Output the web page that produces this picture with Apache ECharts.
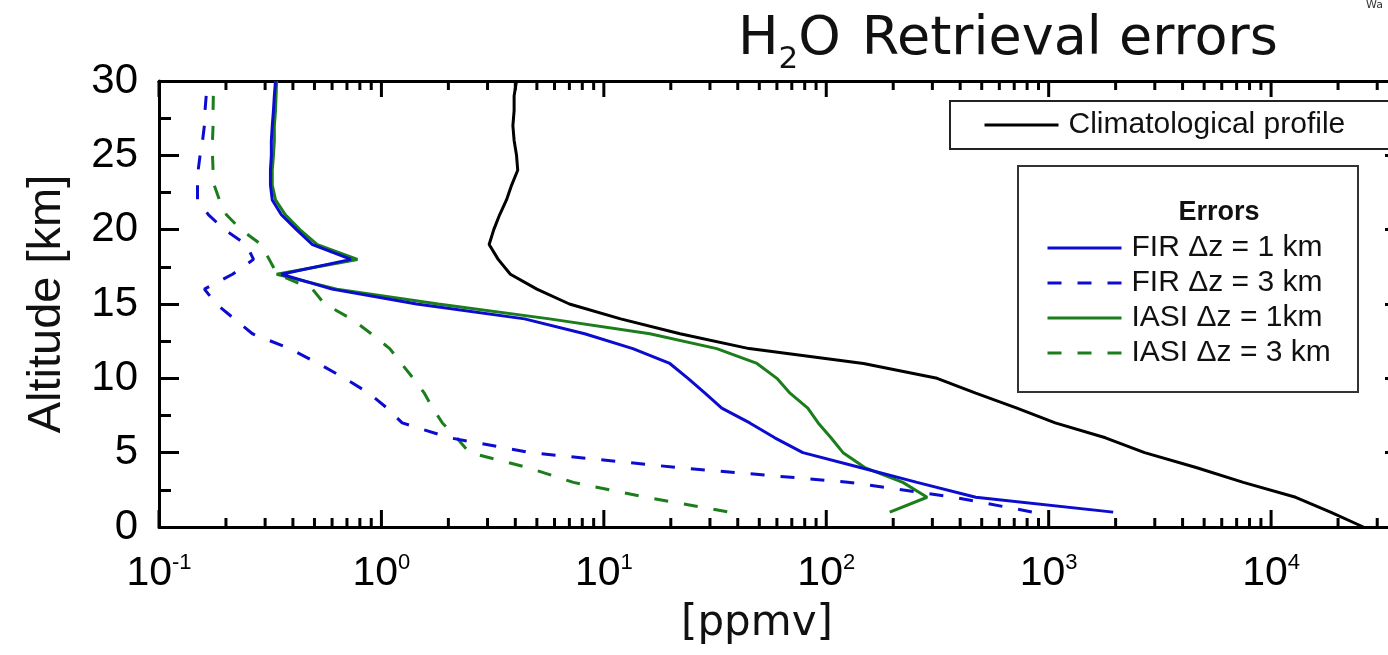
<!DOCTYPE html>
<html>
<head>
<meta charset="utf-8">
<title>H2O Retrieval errors</title>
<script src="https://cdn.jsdelivr.net/npm/echarts@6/dist/echarts.min.js"></script>
<style>
  html, body { margin: 0; padding: 0; background: #ffffff; }
  #chart { width: 1388px; height: 655px; }
</style>
</head>
<body>
<div id="chart"></div>
<script>
// Altitude grids [km]
const altitudeClim = [30,29,28,27,26,25,24,23,22,21,20,19,18,17,16,15,14,13,12,11,10,9,8,7,6,5,4,3,2,1,0];
const altitudeFine = [30,29,28,27,26,25,24,23,22,21,20,19,18,17,16,15,14,13,12,11,10,9,8,7,6,5,4,3,2,1];
const altitudeCoarse = [29,28,27,26,25,24,23,22,21,20,19,18,17,16,15,14,13,12,11,10,9,8,7,6,5,4,3,2,1];

// H2O volume mixing ratio [ppmv]
const climatologicalProfile = [4.05,3.95,3.95,3.9,3.95,4.05,4.1,3.85,3.65,3.4,3.2,3.05,3.35,3.8,5.0,7.0,11.9,22,45,147,315,470,720,1070,1800,2700,4600,7500,12900,18500,26000];
const firDz1 = [0.334,0.33,0.327,0.323,0.32,0.32,0.317,0.317,0.323,0.355,0.415,0.49,0.73,0.355,0.60,1.44,4.4,8.2,13.5,19.8,23.9,28.5,33.9,45.3,58.7,78.5,142,256,470,1950];
const firDz3 = [0.163,0.161,0.16,0.157,0.153,0.15,0.149,0.149,0.167,0.197,0.247,0.266,0.214,0.16,0.181,0.218,0.263,0.386,0.52,0.683,0.88,1.06,1.24,2.03,4.7,21.4,128,376,850];
const iasiDz1 = [0.338,0.336,0.334,0.33,0.33,0.327,0.323,0.323,0.334,0.37,0.43,0.515,0.78,0.338,0.63,1.8,5.7,16.1,32.2,48.8,60,68.7,82.6,92,105,119,149,221,284,193];
const iasiDz3 = [0.1755,0.175,0.175,0.174,0.174,0.175,0.177,0.187,0.201,0.234,0.288,0.313,0.34,0.49,0.555,0.733,0.90,1.09,1.23,1.39,1.56,1.70,1.88,2.18,2.49,4.55,7.3,15.4,36.8];

// Names
const seriesNames = ['Climatological profile', 'FIR \u0394z = 1 km', 'FIR \u0394z = 3 km', 'IASI \u0394z = 1km', 'IASI \u0394z = 3 km'];
const xName = '[ppmv]';
const yName = 'Altitude [km]';

const BLUE = '#0c0cd0';
const GREEN = '#1b7d1b';
const SANS = '"Liberation Sans", Arial, sans-serif';
const DEJAVU = '"DejaVu Sans", sans-serif';

const X_MIN = 0.1, X_MAX = 40000;

function pairs(values, alts) { return values.map((v, i) => [v, alts[i]]); }

// Log-axis tick marks along the bottom and top frame: decades and 2..9 x 10^n
const majorTickValues = [];
const minorTickValues = [];
for (let e = -1; e <= 4; e++) {
  majorTickValues.push([Math.pow(10, e), 0]);
  for (let k = 2; k <= 9; k++) {
    const v = k * Math.pow(10, e);
    if (v < X_MAX) minorTickValues.push([v, 0]);
  }
}

function powerLabel(v) {
  const l = Math.log10(v);
  const n = Math.round(l);
  if (Math.abs(l - n) > 1e-6) return '';
  return '{b|10}{s|' + n + '}';
}

// Custom series drawing inward tick marks on both horizontal frame lines
function tickSeries(name, values, lenBottom, lenTop) {
  return {
    name: name, type: 'custom', xAxisIndex: 0, yAxisIndex: 0,
    data: values, silent: true, clip: false, z: 6,
    encode: { x: 0, y: 1 },
    renderItem: function (params, api) {
      const v = api.value(0);
      const pb = api.coord([v, 0]);
      const pt = api.coord([v, 30]);
      const st = { stroke: '#000', lineWidth: 3 };
      return {
        type: 'group',
        children: [
          { type: 'line', shape: { x1: pb[0], y1: pb[1], x2: pb[0], y2: pb[1] - lenBottom }, style: st },
          { type: 'line', shape: { x1: pt[0], y1: pt[1], x2: pt[0], y2: pt[1] + lenTop }, style: st }
        ]
      };
    }
  };
}

const frameLine = { show: true, onZero: false, lineStyle: { color: '#000', width: 3 } };
const legendText = { fontFamily: SANS, fontSize: 30, color: '#111', lineHeight: 30, padding: [0, 0, 0, 5] };
const yTick = { show: true, inside: true, length: 20, lineStyle: { color: '#000', width: 3 } };
const yMinorTick = { show: true, splitNumber: 2, length: 12, lineStyle: { color: '#000', width: 3 } };

const chart = echarts.init(document.getElementById('chart'), null, { renderer: 'canvas' });

chart.setOption({
  animation: false,
  backgroundColor: '#ffffff',
  title: {
    text: '{m|H}{s|2}{m|O}{g| }{m|Retrieval errors}',
    left: 738,
    top: 5,
    padding: 0,
    textStyle: {
      fontWeight: 'normal',
      rich: {
        m: { fontFamily: DEJAVU, fontSize: 54, fontWeight: 'normal', color: '#111', lineHeight: 70 },
        g: { fontFamily: DEJAVU, fontSize: 54, color: '#111', lineHeight: 70, width: 21 },
        s: { fontFamily: DEJAVU, fontSize: 31, fontWeight: 'normal', color: '#111', lineHeight: 4, verticalAlign: 'bottom' }
      }
    }
  },
  grid: {
    left: 159, top: 81, right: -17, bottom: 128,
    containLabel: false,
    outerBoundsMode: 'none'
  },
  xAxis: [
    {
      type: 'log', logBase: 10, min: X_MIN, max: X_MAX, position: 'bottom',
      name: xName, nameLocation: 'middle', nameGap: 76,
      nameTextStyle: { fontFamily: DEJAVU, fontSize: 42, color: '#111', padding: [0, 50, 0, 0] },
      axisLine: frameLine,
      axisTick: { show: false },
      axisLabel: {
        margin: 25,
        formatter: powerLabel,
        rich: {
          b: { fontFamily: SANS, fontSize: 41, color: '#000', lineHeight: 44 },
          s: { fontFamily: SANS, fontSize: 22, color: '#000', lineHeight: 8, verticalAlign: 'top' }
        }
      },
      splitLine: { show: false }
    },
    {
      type: 'log', logBase: 10, min: X_MIN, max: X_MAX, position: 'top',
      axisLine: frameLine,
      axisTick: { show: false },
      axisLabel: { show: false },
      splitLine: { show: false }
    }
  ],
  yAxis: [
    {
      type: 'value', min: 0, max: 30, interval: 5, position: 'left',
      name: yName, nameLocation: 'middle', nameGap: 88, nameRotate: 90,
      nameTextStyle: { fontFamily: SANS, fontSize: 47, color: '#111' },
      axisLine: frameLine,
      axisTick: yTick,
      minorTick: yMinorTick,
      axisLabel: { margin: 21, fontFamily: SANS, fontSize: 42, color: '#000' },
      splitLine: { show: false },
      minorSplitLine: { show: false }
    },
    {
      type: 'value', min: 0, max: 30, interval: 5, position: 'right',
      axisLine: frameLine,
      axisTick: yTick,
      minorTick: yMinorTick,
      axisLabel: { show: false },
      splitLine: { show: false }
    }
  ],
  legend: [
    {
      data: [seriesNames[0]],
      left: 983, top: 110, padding: 0,
      itemWidth: 74, itemHeight: 14,
      itemStyle: { opacity: 0 },
      lineStyle: { width: 3 },
      textStyle: legendText,
      selectedMode: false
    },
    {
      data: seriesNames.slice(1),
      orient: 'vertical',
      left: 1046, top: 233, padding: 0,
      itemWidth: 74, itemHeight: 14, itemGap: 5,
      itemStyle: { opacity: 0 },
      lineStyle: { width: 3 },
      textStyle: legendText,
      selectedMode: false
    }
  ],
  graphic: [
    {
      type: 'rect', z: 3,
      shape: { x: 950, y: 101, width: 440, height: 48 },
      style: { fill: '#ffffff', stroke: '#222', lineWidth: 2 }
    },
    {
      type: 'rect', z: 3,
      shape: { x: 1018, y: 166, width: 340, height: 226 },
      style: { fill: '#ffffff', stroke: '#333', lineWidth: 2 }
    },
    {
      type: 'text', z: 5,
      style: {
        text: 'Errors', x: 1219, y: 213, align: 'center', verticalAlign: 'middle',
        font: 'bold 27px ' + SANS, fill: '#111'
      }
    },
    {
      type: 'text', z: 5,
      style: {
        text: 'Wa', x: 1366, y: 0, align: 'left', verticalAlign: 'top',
        font: '11px ' + DEJAVU, fill: '#333'
      }
    }
  ],
  series: [
    {
      name: seriesNames[0], type: 'line', xAxisIndex: 0, yAxisIndex: 0,
      data: pairs(climatologicalProfile, altitudeClim),
      symbol: 'none', color: '#000',
      lineStyle: { color: '#000', width: 3 }, z: 2
    },
    {
      name: seriesNames[1], type: 'line', xAxisIndex: 0, yAxisIndex: 0,
      data: pairs(firDz1, altitudeFine),
      symbol: 'none', color: BLUE,
      lineStyle: { color: BLUE, width: 3 }, z: 3
    },
    {
      name: seriesNames[2], type: 'line', xAxisIndex: 0, yAxisIndex: 0,
      data: pairs(firDz3, altitudeCoarse),
      symbol: 'none', color: BLUE,
      lineStyle: { color: BLUE, width: 3, type: [14, 16] }, z: 3
    },
    {
      name: seriesNames[3], type: 'line', xAxisIndex: 0, yAxisIndex: 0,
      data: pairs(iasiDz1, altitudeFine),
      symbol: 'none', color: GREEN,
      lineStyle: { color: GREEN, width: 3 }, z: 2
    },
    {
      name: seriesNames[4], type: 'line', xAxisIndex: 0, yAxisIndex: 0,
      data: pairs(iasiDz3, altitudeCoarse),
      symbol: 'none', color: GREEN,
      lineStyle: { color: GREEN, width: 3, type: [14, 16] }, z: 2
    },
    tickSeries('major ticks', majorTickValues, 17, 16),
    tickSeries('minor ticks', minorTickValues, 9, 9)
  ]
});
</script>
</body>
</html>
